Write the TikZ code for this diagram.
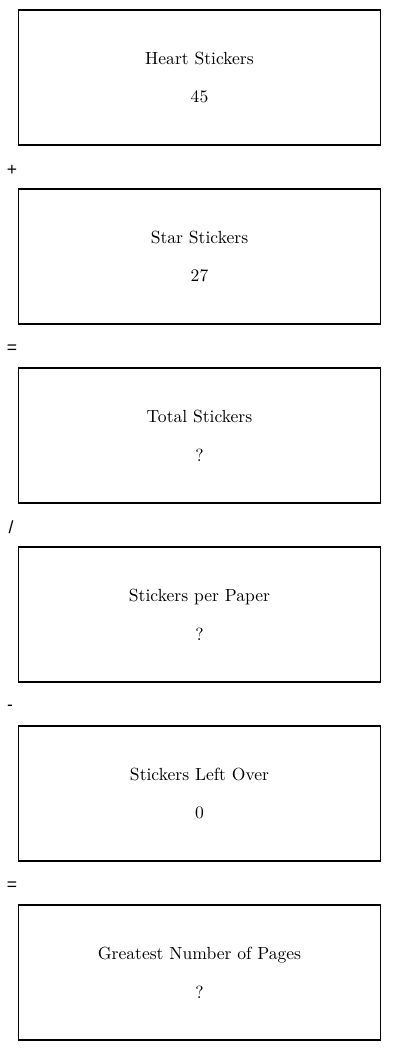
\documentclass[tikz,border=0pt]{standalone}
\usepackage{fontspec}
\newfontfamily\opfont{Liberation Sans}
\usetikzlibrary{positioning}

\begin{document}
\begin{tikzpicture}[x=0.02cm, y=-0.02cm, every node/.style={font=\normalsize},
    qbox/.style={draw, line width=0.6pt, rectangle, minimum width=7.26cm, minimum height=2.7cm, align=center, inner sep=0pt},
    opsign/.style={font=\opfont\normalsize, inner sep=0pt}]

\useasboundingbox (0,0) rectangle (400,1051);

% Boxes
\node[qbox] (heart) at (199.5,77.5) {Heart Stickers\\[10pt]45};
\node[qbox] (star) at (199.5,256.5) {Star Stickers\\[10pt]27};
\node[qbox] (total) at (199.5,435.5) {Total Stickers\\[10pt]?};
\node[qbox] (perpaper) at (199.5,614.5) {Stickers per Paper\\[10pt]?};
\node[qbox] (leftover) at (199.5,793.5) {Stickers Left Over\\[10pt]0};
\node[qbox] (pages) at (199.5,972.5) {Greatest Number of Pages\\[10pt]?};

% Operators
\node[opsign] (plus) at (12,170.5) {+};
\node[opsign] (eq1) at (12,349.5) {=};
\node[opsign] (div) at (11,527) {/};
\node[opsign] (minus) at (10,707.5) {-};
\node[opsign] (eq2) at (12,886.5) {=};

\end{tikzpicture}
\end{document}
